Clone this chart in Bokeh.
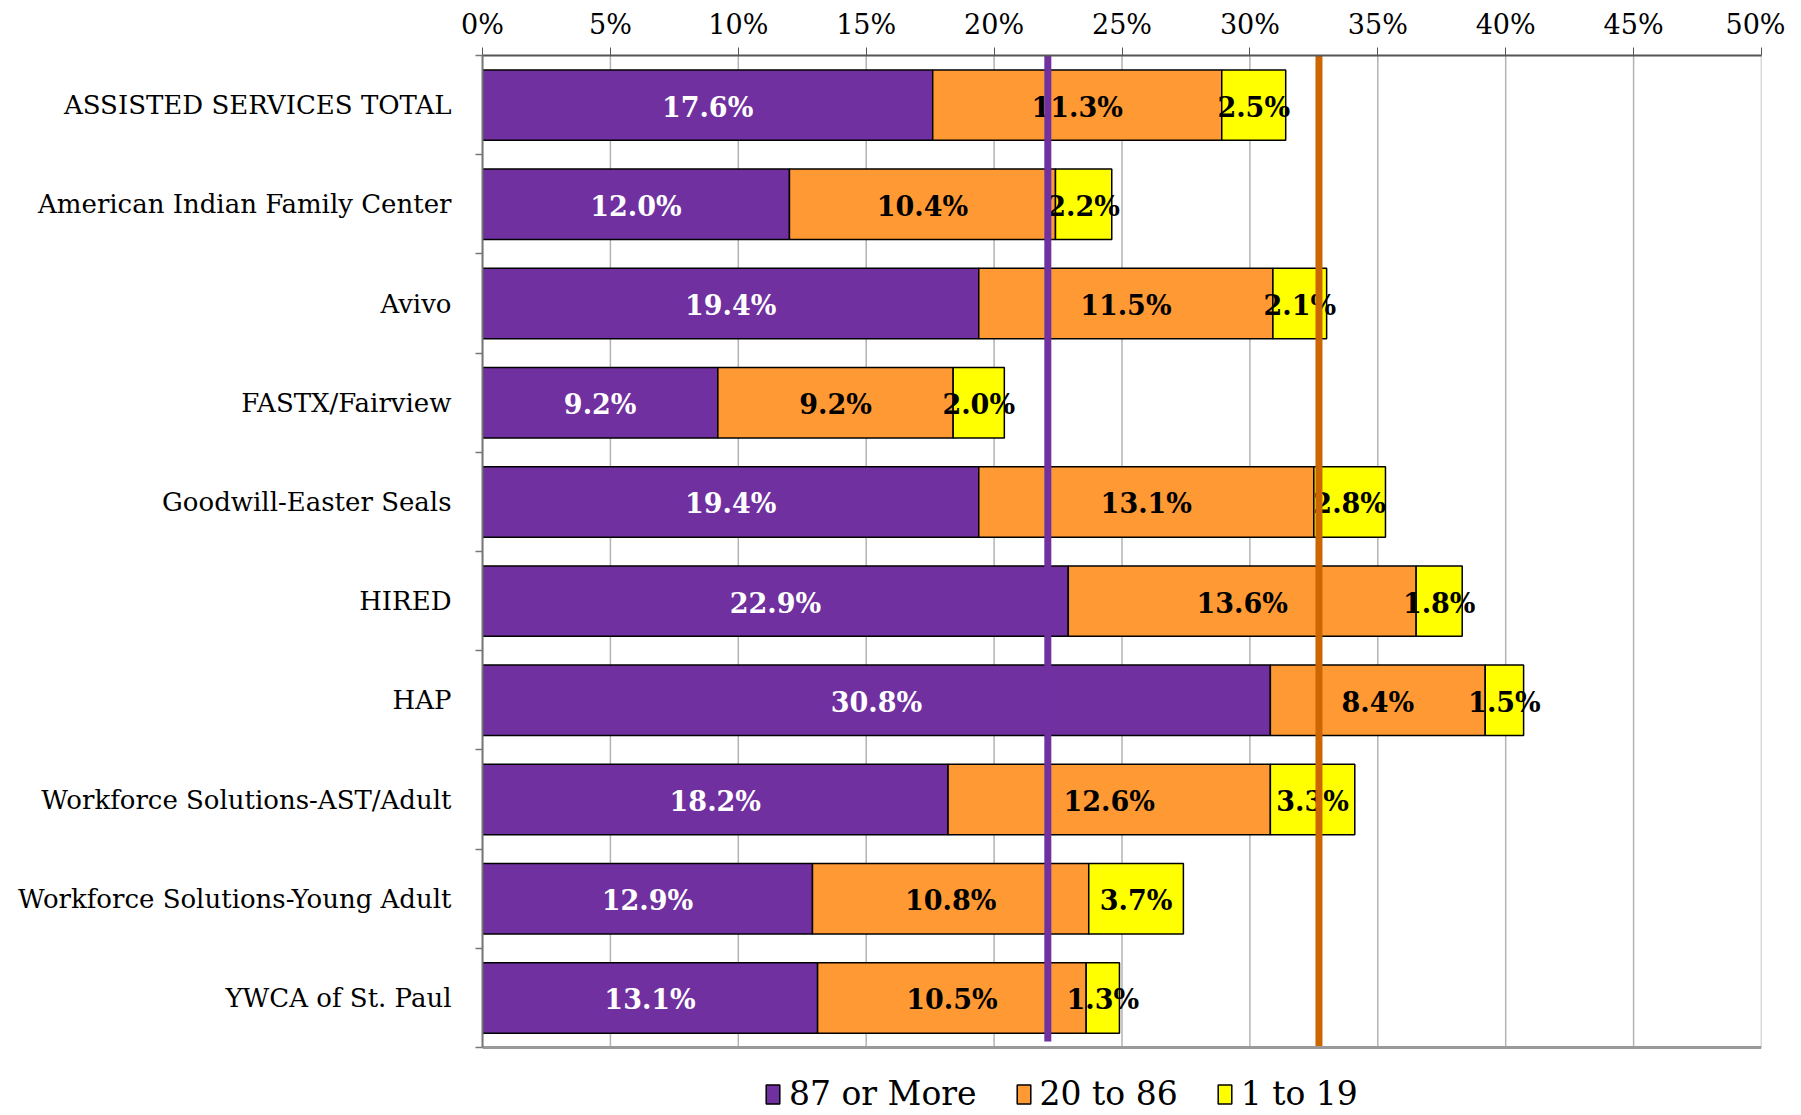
from bokeh.plotting import figure
from bokeh.models import (ColumnDataSource, Range1d, Legend, LegendItem,
                          FixedTicker, CustomJSTickFormatter)
from bokeh.core.properties import value
from bokeh.embed import file_html
from bokeh.resources import INLINE

categories = ["ASSISTED SERVICES TOTAL", "American Indian Family Center", "Avivo",
              "FASTX/Fairview", "Goodwill-Easter Seals", "HIRED", "HAP",
              "Workforce Solutions-AST/Adult", "Workforce Solutions-Young Adult",
              "YWCA of St. Paul"]
s87_or_more = [17.6, 12.0, 19.4, 9.2, 19.4, 22.9, 30.8, 18.2, 12.9, 13.1]
s20_to_86 = [11.3, 10.4, 11.5, 9.2, 13.1, 13.6, 8.4, 12.6, 10.8, 10.5]
s1_to_19 = [2.5, 2.2, 2.1, 2.0, 2.8, 1.8, 1.5, 3.3, 3.7, 1.3]
series_names = ["87 or More", "20 to 86", "1 to 19"]
ref_87 = 22.1
ref_total = 32.7
x_ticks = [0, 5, 10, 15, 20, 25, 30, 35, 40, 45, 50]

FONT = "DejaVu Serif"
colors = ["#7030A0", "#FF9933", "#FFFF00"]

n = len(categories)
ypos = [n - 0.5 - i for i in range(n)]  # first category at top
src = ColumnDataSource(dict(y=ypos, a=s87_or_more, b=s20_to_86, c=s1_to_19))

# extra room under the bars (in category units) holds the legend
LEG_ROOM = 0.665
p = figure(frame_width=1279, frame_height=1058, output_backend="svg", toolbar_location=None,
           y_range=Range1d(-LEG_ROOM, n), x_range=Range1d(0, 50), x_axis_location="above",
           min_border_left=482, min_border_top=55, min_border_right=24, min_border_bottom=0)

# vertical gridlines limited to the bar area
p.segment(x0=x_ticks, y0=[0] * len(x_ticks), x1=x_ticks, y1=[n] * len(x_ticks),
          line_color="#B3B3B3", line_width=1.5)

rs = p.hbar_stack(["a", "b", "c"], y="y", height=0.71, source=src,
                  fill_color=colors, line_color="black", line_width=1.5)

# labels
lx, ly, lt, lc = [], [], [], []
for i in range(n):
    start = 0.0
    for vals, col in zip([s87_or_more, s20_to_86, s1_to_19], ["white", "black", "black"]):
        v = vals[i]
        lx.append(start + v / 2)
        ly.append(ypos[i])
        lt.append(f"{v:.1f}%")
        lc.append(col)
        start += v
p.text(x="x", y="y", text="t", text_color="c",
       source=ColumnDataSource(dict(x=lx, y=ly, t=lt, c=lc)),
       text_align="center", text_baseline="middle", text_font=value(FONT),
       text_font_style="bold", text_font_size="27px", y_offset=2)

p.segment(x0=[ref_87], y0=[0.06], x1=[ref_87], y1=[n], line_color="#7030A0", line_width=7)
p.segment(x0=[ref_total], y0=[0], x1=[ref_total], y1=[n], line_color="#CC6600", line_width=7)
# bottom axis line
p.segment(x0=[0], y0=[0], x1=[50], y1=[0], line_color="#999999", line_width=3)

p.xaxis.ticker = FixedTicker(ticks=x_ticks)
p.xaxis.formatter = CustomJSTickFormatter(code="return tick + '%'")
p.xaxis.major_label_text_font = FONT
p.xaxis.major_label_text_font_size = "27px"
p.xaxis.major_label_text_color = "black"
p.xaxis.axis_line_color = "#555555"
p.xaxis.axis_line_width = 2
p.xaxis.major_tick_line_color = "#555555"
p.xaxis.major_tick_out = 8
p.xaxis.major_tick_in = 0
p.xaxis.minor_tick_line_color = None
p.xaxis.major_label_standoff = 8

p.yaxis.bounds = (0, n)
p.yaxis.ticker = FixedTicker(ticks=ypos, minor_ticks=list(range(n + 1)))
p.yaxis.major_label_overrides = {yv: c for yv, c in zip(ypos, categories)}
p.yaxis.major_label_text_font = FONT
p.yaxis.major_label_text_font_size = "26px"
p.yaxis.major_label_text_color = "black"
p.yaxis.axis_line_color = "#777777"
p.yaxis.axis_line_width = 2
p.yaxis.major_tick_line_color = None
p.yaxis.minor_tick_line_color = "#777777"
p.yaxis.minor_tick_line_width = 1.5
p.yaxis.minor_tick_out = 7
p.yaxis.minor_tick_in = 0
p.yaxis.major_label_standoff = 24

p.xgrid.grid_line_color = None
p.ygrid.grid_line_color = None
p.outline_line_color = None

legend = Legend(items=[LegendItem(label=nm, renderers=[r]) for nm, r in zip(series_names, rs)],
                orientation="horizontal", location=(282, 0),
                label_text_font=FONT, label_text_font_size="33px", label_text_color="black",
                label_standoff=8, glyph_width=17, glyph_height=24, spacing=38,
                padding=0, margin=0,
                border_line_color=None, background_fill_alpha=0)
p.add_layout(legend, "center")

open("out.html", "w").write(file_html(p, INLINE))
